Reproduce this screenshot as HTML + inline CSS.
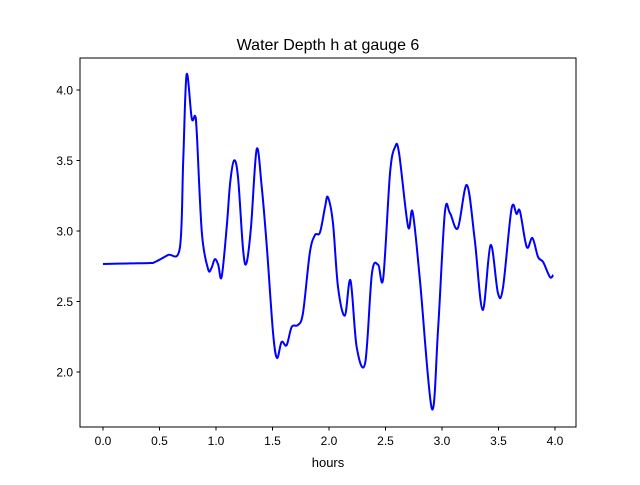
<!DOCTYPE html>
<html><head><meta charset="utf-8"><style>
body{margin:0;background:#fff}
svg text{font-family:"Liberation Sans","DejaVu Sans",sans-serif;fill:#000}
</style></head><body>
<svg id="chart" width="640" height="480" viewBox="0 0 640 480" xmlns="http://www.w3.org/2000/svg">
<rect width="640" height="480" fill="#fff"/>
<text x="328" y="50" font-size="16" text-anchor="middle">Water Depth h at gauge 6</text>
<g id="plot"></g>
<rect x="80" y="58" width="496" height="369" fill="none" stroke="#000" stroke-width="1"/>
<text x="328" y="467" font-size="13" text-anchor="middle">hours</text>
</svg>
<script>
const hours=[0.0,0.24,0.42,0.46,0.575,0.68,0.71,0.74,0.785,0.815,0.83,0.875,0.93,0.96,0.99,1.02,1.05,1.095,1.125,1.16,1.195,1.24,1.27,1.31,1.36,1.405,1.45,1.505,1.54,1.58,1.625,1.67,1.725,1.77,1.83,1.875,1.92,1.965,1.99,2.035,2.08,2.14,2.19,2.245,2.32,2.38,2.435,2.48,2.54,2.585,2.62,2.70,2.74,2.805,2.91,2.965,3.025,3.07,3.14,3.22,3.29,3.36,3.43,3.495,3.54,3.615,3.66,3.69,3.75,3.80,3.85,3.895,3.955,3.985];
const depth=[2.766,2.77,2.773,2.78,2.83,2.88,3.50,4.11,3.80,3.815,3.695,2.986,2.73,2.738,2.80,2.76,2.674,3.03,3.34,3.50,3.38,2.865,2.773,3.03,3.58,3.31,2.886,2.277,2.10,2.213,2.19,2.32,2.333,2.42,2.844,2.97,2.99,3.17,3.24,3.057,2.60,2.40,2.65,2.177,2.064,2.70,2.76,2.667,3.41,3.596,3.553,3.03,3.135,2.65,1.74,2.30,3.128,3.128,3.02,3.326,2.936,2.44,2.90,2.56,2.60,3.156,3.12,3.14,2.886,2.95,2.816,2.78,2.674,2.688];
const xTicks=[0,0.5,1,1.5,2,2.5,3,3.5,4];
const yTicks=[2,2.5,3,3.5,4];
const xs=v=>103+v*113, ys=v=>90+(4-v)*141;
const g=document.getElementById('plot'), NS='http://www.w3.org/2000/svg';
function mk(t,a){const e=document.createElementNS(NS,t);for(const k in a)e.setAttribute(k,a[k]);g.appendChild(e);return e;}
xTicks.forEach(t=>{const x=xs(t);
 const l=mk('line',{x1:x,x2:x,y1:427,y2:430.5,stroke:'#000'});
 
 
 const tx=mk('text',{x:x,y:445,'font-size':12,'text-anchor':'middle'});tx.textContent=t.toFixed(1);
 
 });
yTicks.forEach(t=>{const y=ys(t);
 const l=mk('line',{x1:76.5,x2:80,y1:y,y2:y,stroke:'#000'});
 
 
 const tx=mk('text',{x:73,y:y+4.5,'font-size':12,'text-anchor':'end'});tx.textContent=t.toFixed(1);
 
 });
const P=hours.map((h,i)=>[xs(h),ys(depth[i])]);
let d='M'+P[0][0]+','+P[0][1];
for(let i=0;i<P.length-1;i++){const p0=P[Math.max(0,i-1)],p1=P[i],p2=P[i+1],p3=P[Math.min(P.length-1,i+2)];
 const c1=[p1[0]+(p2[0]-p0[0])/6,p1[1]+(p2[1]-p0[1])/6],c2=[p2[0]-(p3[0]-p1[0])/6,p2[1]-(p3[1]-p1[1])/6];
 d+=' C'+c1+' '+c2+' '+p2;}
const line=mk('path',{d:d,fill:'none',stroke:'#0000ff','stroke-width':2,'stroke-linejoin':'round'});


</script>
</body></html>
